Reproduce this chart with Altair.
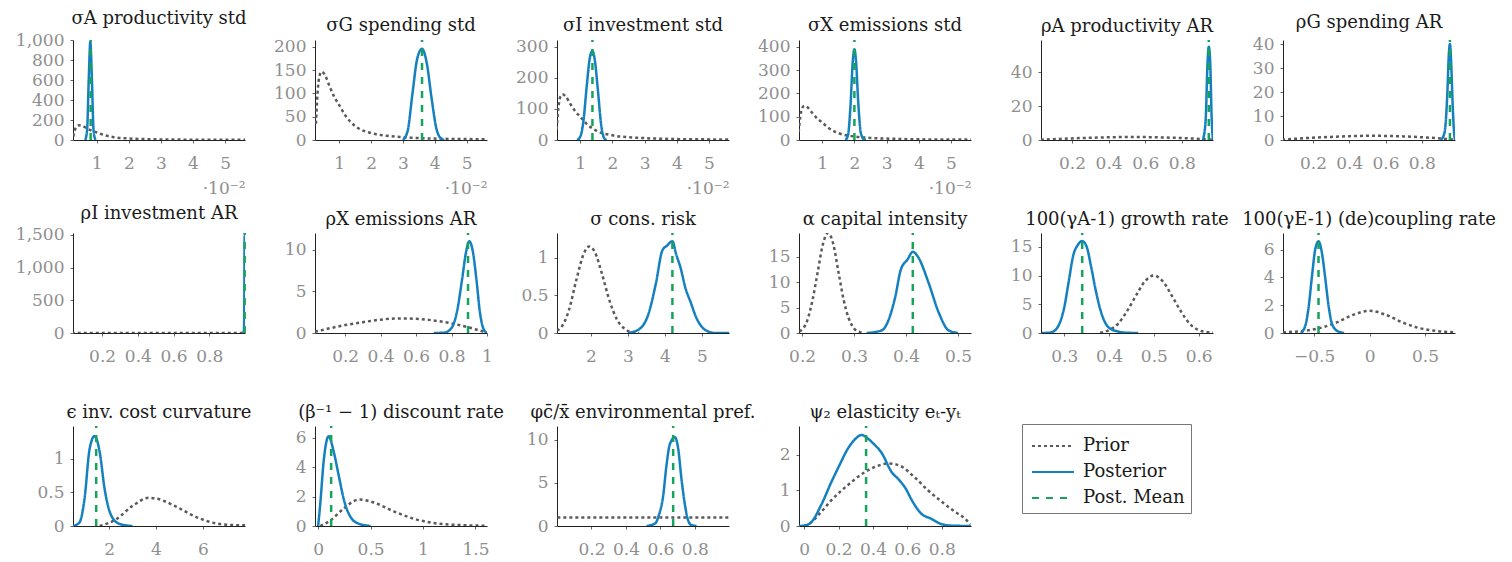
import altair as alt
import pandas as pd

# panel titles, read left to right, top to bottom
titles = [
    "σA productivity std", "σG spending std", "σI investment std", "σX emissions std",
    "ρA productivity AR", "ρG spending AR",
    "ρI investment AR", "ρX emissions AR", "σ cons. risk", "α capital intensity",
    "100(γA-1) growth rate", "100(γE-1) (de)coupling rate",
    "ϵ inv. cost curvature", "(β⁻¹ − 1) discount rate", "φc̄/x̄ environmental pref.",
    "ψ₂ elasticity eₜ-yₜ",
]

# shared priors (shock std's in units of 1e-2, AR coefficients)
ig_prior_x = [0.27, 0.32, 0.38, 0.45, 0.55, 0.7, 0.85, 1.0, 1.2, 1.5, 2.0, 2.5, 3.0, 4.0, 5.0, 5.62]
ig_prior_y = [35, 100, 138, 147, 140, 115, 92, 75, 52, 30, 15, 9, 6, 3, 2, 1.5]
beta_prior_x = [0.03, 0.1, 0.2, 0.3, 0.4, 0.5, 0.6, 0.7, 0.8, 0.9, 0.95, 1.0]
beta_prior_y = [0.15, 0.5, 0.95, 1.3, 1.6, 1.75, 1.7, 1.5, 1.15, 0.65, 0.35, 0.05]

# priors of the other parameters
sig_prior_x = [1.08, 1.2, 1.4, 1.6, 1.8, 1.95, 2.1, 2.3, 2.5, 2.7, 2.9, 3.1, 3.3]
sig_prior_y = [0.03, 0.08, 0.3, 0.7, 1.05, 1.15, 1.08, 0.78, 0.43, 0.18, 0.06, 0.01, 0]
alpha_prior_x = [0.195, 0.21, 0.22, 0.23, 0.24, 0.25, 0.26, 0.27, 0.28, 0.29, 0.30, 0.31, 0.32]
alpha_prior_y = [0.3, 2.5, 6.5, 12, 17.5, 19.7, 17.5, 12, 6.5, 2.8, 0.9, 0.2, 0]
gamA_prior_x = [0.38, 0.4, 0.42, 0.44, 0.46, 0.48, 0.5, 0.52, 0.54, 0.56, 0.58, 0.6, 0.62, 0.632]
gamA_prior_y = [0.05, 0.5, 1.6, 3.8, 6.5, 9.0, 10, 9.0, 6.5, 3.8, 1.6, 0.5, 0.15, 0.1]
gamE_prior_x = [-0.78, -0.6, -0.45, -0.3, -0.15, 0, 0.15, 0.3, 0.45, 0.6, 0.77]
gamE_prior_y = [0.05, 0.15, 0.35, 0.75, 1.3, 1.6, 1.3, 0.75, 0.35, 0.15, 0.05]
eps_prior_x = [1.6, 2.3, 3.0, 3.7, 4.0, 4.8, 5.5, 6.2, 7.0, 7.8]
eps_prior_y = [0, 0.1, 0.3, 0.42, 0.41, 0.3, 0.17, 0.07, 0.02, 0.01]
beta_disc_prior_x = [0.02, 0.12, 0.245, 0.39, 0.53, 0.72, 0.91, 1.1, 1.36, 1.61]
beta_disc_prior_y = [0, 0.4, 1.2, 1.8, 1.6, 1.0, 0.5, 0.2, 0.06, 0.02]
phi_prior_x = [0.002, 0.998]
phi_prior_y = [1, 1]
psi_prior_x = [0.0, 0.04, 0.1, 0.16, 0.25, 0.35, 0.42, 0.49, 0.56, 0.645, 0.72, 0.8, 0.87, 0.936, 0.965]
psi_prior_y = [0, 0.1, 0.4, 0.73, 1.13, 1.5, 1.67, 1.75, 1.68, 1.35, 1.0, 0.68, 0.42, 0.2, 0.05]

# posteriors
post_sigA_x = [0.64, 0.7, 0.75, 0.8, 0.85, 0.9, 0.96]
post_sigA_y = [0, 100, 600, 980, 600, 100, 0]
post_sigG_x = [3.0, 3.15, 3.3, 3.45, 3.6, 3.75, 3.9, 4.05, 4.2, 4.3]
post_sigG_y = [0, 20, 100, 175, 196, 165, 90, 25, 3, 0]
post_sigI_x = [0.9, 1.0, 1.1, 1.2, 1.3, 1.38, 1.45, 1.55, 1.65, 1.75, 1.82]
post_sigI_y = [0, 10, 60, 170, 265, 287, 260, 160, 50, 5, 0]
post_sigX_x = [1.72, 1.8, 1.88, 1.95, 2.0, 2.05, 2.12, 2.2, 2.3, 2.36]
post_sigX_y = [0, 20, 150, 340, 390, 340, 160, 30, 2, 0]
post_rhoA_x = [0.915, 0.93, 0.94, 0.947, 0.955, 0.963, 0.97]
post_rhoA_y = [0, 12, 45, 55, 45, 12, 0]
post_rhoG_x = [0.905, 0.925, 0.94, 0.95, 0.955, 0.962, 0.97, 0.978, 0.983]
post_rhoG_y = [0, 3, 18, 37, 40, 32, 15, 3, 0]
post_rhoI_x = [0.99, 0.994, 0.996, 0.998, 0.999, 1.0]
post_rhoI_y = [0, 40, 400, 1480, 1000, 200]
post_rhoX_x = [0.7, 0.76, 0.8, 0.83, 0.86, 0.88, 0.9, 0.92, 0.94, 0.96, 0.98, 1.0]
post_rhoX_y = [0, 0.05, 0.6, 2.5, 6.5, 9.5, 11, 9.8, 6.5, 2.5, 0.5, 0]
post_sig_x = [3.0, 3.3, 3.55, 3.75, 3.93, 4.05, 4.2, 4.3, 4.43, 4.54, 4.7, 4.85, 5.0, 5.17, 5.35, 5.73]
post_sig_y = [0, 0.05, 0.25, 0.65, 1.1, 1.16, 1.22, 1.05, 0.85, 0.62, 0.4, 0.2, 0.08, 0.02, 0, 0]
post_alpha_x = [0.324, 0.353, 0.379, 0.39, 0.403, 0.413, 0.423, 0.443, 0.463, 0.482, 0.5]
post_alpha_y = [0, 0.5, 7, 12.5, 14.5, 16, 15, 10, 4, 0.5, 0]
post_gamA_x = [0.25, 0.27, 0.285, 0.30, 0.31, 0.32, 0.33, 0.34, 0.35, 0.36, 0.37, 0.38, 0.39, 0.40, 0.42, 0.44, 0.465]
post_gamA_y = [0, 0.1, 1.0, 4.5, 9, 13.5, 15.3, 16, 15, 11.5, 7.5, 4.2, 2, 0.9, 0.25, 0.05, 0]
post_gamE_x = [-0.62, -0.58, -0.55, -0.52, -0.49, -0.46, -0.43, -0.4, -0.37, -0.34, -0.3, -0.26, -0.23]
post_gamE_y = [0, 0.5, 1.8, 4, 6.0, 6.6, 5.8, 4, 2, 0.7, 0.2, 0.05, 0]
post_eps_x = [0.46, 0.73, 0.95, 1.17, 1.38, 1.6, 1.81, 2.1, 2.46, 3.0]
post_eps_y = [0, 0.05, 0.4, 1.15, 1.34, 1.1, 0.55, 0.15, 0.03, 0]
post_beta_x = [0, 0.02, 0.054, 0.1, 0.15, 0.2, 0.245, 0.31, 0.39, 0.5]
post_beta_y = [0, 1.5, 4.5, 6.1, 5.0, 3.3, 1.8, 0.6, 0.15, 0]
post_phi_x = [0.52, 0.57, 0.59, 0.616, 0.635, 0.655, 0.684, 0.703, 0.722, 0.742, 0.76, 0.78, 0.81]
post_phi_y = [0, 0.3, 1.2, 3.5, 7, 9.5, 10.3, 9, 5.5, 2.5, 0.7, 0.1, 0]
post_psi_x = [-0.03, 0.0, 0.04, 0.1, 0.16, 0.2, 0.256, 0.3, 0.334, 0.37, 0.4, 0.45, 0.51, 0.55, 0.59, 0.625, 0.68, 0.74, 0.8, 0.86, 0.97]
post_psi_y = [0, 0.01, 0.1, 0.6, 1.25, 1.65, 2.18, 2.45, 2.55, 2.45, 2.32, 2.05, 1.5, 1.3, 1.05, 0.73, 0.35, 0.2, 0.05, 0.01, 0]

# posterior means
post_means = [0.81, 3.6, 1.38, 2.0, 0.947, 0.955, 0.998, 0.893, 4.2, 0.413, 0.34, -0.46, 1.45, 0.124, 0.674, 0.36]

# axis ranges and ticks
x_domains = [[0.26, 5.62], [0.24, 5.64], [0.28, 5.62], [0.28, 5.62], [0.031, 0.97], [0.035, 0.983],
             [0.037, 1.0], [0.03, 1.0], [1.08, 5.73], [0.194, 0.525], [0.248, 0.632], [-0.78, 0.77],
             [0.46, 7.8], [-0.03, 1.61], [0.0, 0.998], [-0.03, 0.97]]
y_tops = [1000, 215, 322, 430, 59, 41.7, 1530, 12, 1.33, 19.7, 17.4, 7.2, 1.49, 6.8, 11.6, 2.8]
x_ticks = [[1, 2, 3, 4, 5]] * 4 + [[0.2, 0.4, 0.6, 0.8]] * 3 + [
    [0.2, 0.4, 0.6, 0.8, 1], [2, 3, 4, 5], [0.2, 0.3, 0.4, 0.5], [0.3, 0.4, 0.5, 0.6],
    [-0.5, 0, 0.5], [2, 4, 6], [0, 0.5, 1, 1.5], [0.2, 0.4, 0.6, 0.8], [0, 0.2, 0.4, 0.6, 0.8]]
y_ticks = [[0, 200, 400, 600, 800, 1000], [0, 50, 100, 150, 200], [0, 100, 200, 300],
           [0, 100, 200, 300, 400], [0, 20, 40], [0, 10, 20, 30, 40], [0, 500, 1000, 1500],
           [0, 5, 10], [0, 0.5, 1], [0, 5, 10, 15], [0, 5, 10, 15], [0, 2, 4, 6],
           [0, 0.5, 1], [0, 2, 4, 6], [0, 5, 10], [0, 1, 2]]

priors = [(ig_prior_x, ig_prior_y)] * 4 + [(beta_prior_x, beta_prior_y)] * 4 + [
    (sig_prior_x, sig_prior_y), (alpha_prior_x, alpha_prior_y), (gamA_prior_x, gamA_prior_y),
    (gamE_prior_x, gamE_prior_y), (eps_prior_x, eps_prior_y), (beta_disc_prior_x, beta_disc_prior_y),
    (phi_prior_x, phi_prior_y), (psi_prior_x, psi_prior_y)]
posteriors = [
    (post_sigA_x, post_sigA_y), (post_sigG_x, post_sigG_y), (post_sigI_x, post_sigI_y),
    (post_sigX_x, post_sigX_y), (post_rhoA_x, post_rhoA_y), (post_rhoG_x, post_rhoG_y),
    (post_rhoI_x, post_rhoI_y), (post_rhoX_x, post_rhoX_y), (post_sig_x, post_sig_y),
    (post_alpha_x, post_alpha_y), (post_gamA_x, post_gamA_y), (post_gamE_x, post_gamE_y),
    (post_eps_x, post_eps_y), (post_beta_x, post_beta_y), (post_phi_x, post_phi_y),
    (post_psi_x, post_psi_y)]

kinds = ["Prior", "Posterior", "Post. Mean"]
color_scale = alt.Scale(domain=kinds, range=["#5a5a5a", "#1580c0", "#16a35a"])
dash_scale = alt.Scale(domain=kinds, range=[[3, 3], [1, 0], [7, 7]])
legend = alt.Legend(title=None, orient="none", legendX=949, legendY=384)

FONT = "DejaVu Serif"


def panel(i):
    px, py = priors[i]
    qx, qy = posteriors[i]
    prior = pd.DataFrame({"x": px, "y": py, "kind": "Prior"})
    post = pd.DataFrame({"x": qx, "y": qy, "kind": "Posterior"})
    mean = pd.DataFrame({"x": [post_means[i]], "y": [0], "y2": [y_tops[i]], "kind": "Post. Mean"})

    x_opts = dict(values=x_ticks[i], tickCount=len(x_ticks[i]), format=",~r", labelFont=FONT,
                  labelOverlap=False, labelPadding=12)
    if i < 4:
        # shock std's are shown in units of 1e-2
        x_axis = alt.Axis(title="·10⁻²", titleAnchor="end", titlePadding=9, **x_opts)
    else:
        x_axis = alt.Axis(title=None, **x_opts)
    x = alt.X("x:Q", scale=alt.Scale(domain=x_domains[i], nice=False, zero=False), axis=x_axis)
    y = alt.Y("y:Q", scale=alt.Scale(domain=[0, y_tops[i]], nice=False),
              axis=alt.Axis(values=y_ticks[i], tickCount=len(y_ticks[i]), format=",~r", title=None,
                            labelFont=FONT, labelOverlap=False, labelPadding=6))
    color = alt.Color("kind:N", scale=color_scale, legend=legend)
    dash = alt.StrokeDash("kind:N", scale=dash_scale, legend=legend)

    prior_line = alt.Chart(prior).mark_line(strokeWidth=2.5, interpolate="monotone", clip=True).encode(
        x=x, y=y, color=color, strokeDash=dash)
    post_line = alt.Chart(post).mark_line(strokeWidth=2.5, interpolate="monotone", clip=True).encode(
        x=x, y=y, color=color, strokeDash=dash)
    mean_rule = alt.Chart(mean).mark_rule(strokeWidth=2.5).encode(
        x="x:Q", y="y:Q", y2="y2:Q", color=color, strokeDash=dash)

    return (prior_line + post_line + mean_rule).properties(
        width=172, height=100, title=titles[i])


chart = alt.concat(
    *[panel(i) for i in range(16)],
    columns=6,
    spacing=alt.RowColnumber(row=93, column=70),
    bounds="flush",
).properties(
    padding={"left": 7, "top": 2, "right": 5, "bottom": 5}
).configure_axis(
    domainColor="#222222", domainWidth=1, tickColor="#666666", tickSize=3, grid=False,
    labelFont=FONT, labelFontSize=17, labelColor="#8f8f8f",
    labelFlush=False, labelOverlap=False,
    titleFont=FONT, titleFontSize=17, titleColor="#8f8f8f", titleFontWeight="normal",
).configure_view(
    strokeWidth=0
).configure_title(
    font=FONT, fontSize=18, fontWeight="normal", color="#1a1a1a", offset=3
).configure_legend(
    strokeColor="#777777", fillColor="white", padding=6, cornerRadius=0,
    symbolType="M-1.4,0L1.4,0", symbolSize=900, symbolStrokeWidth=2, symbolOffset=9,
    labelFont=FONT, labelFontSize=18, labelColor="#1a1a1a",
    labelOffset=14, rowPadding=1,
)

chart.save("out.html", embed_options={"renderer": "svg", "actions": False})
